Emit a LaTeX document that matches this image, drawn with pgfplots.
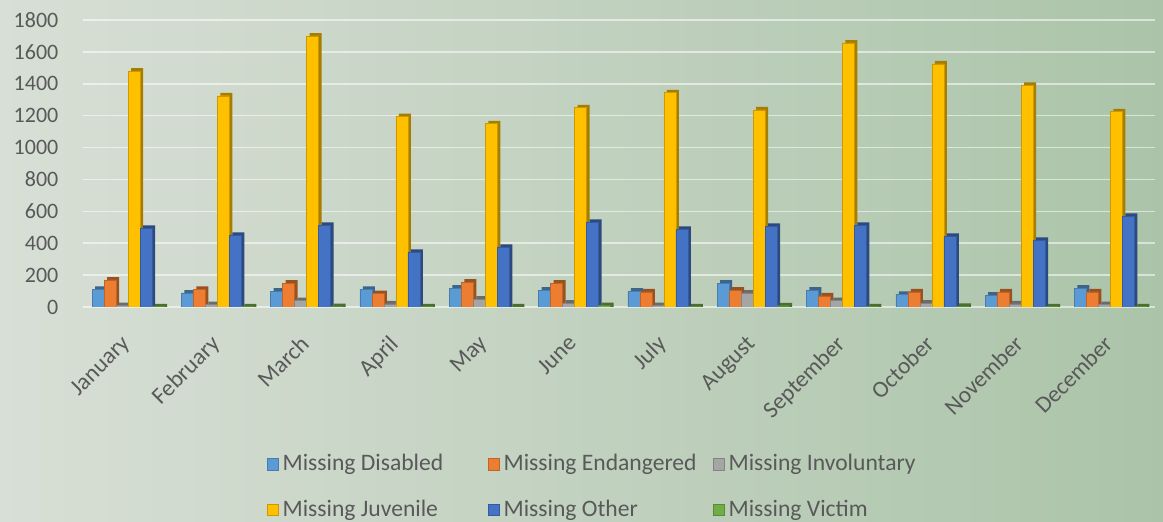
\documentclass[border=0pt]{standalone}
\usepackage{pgfplots}
\pgfplotsset{compat=1.18}
\usepackage{pgfplotstable}
\usepackage{fontspec}
\setmainfont{Carlito}
\definecolor{cDis}{HTML}{5B9BD5}
\definecolor{cEnd}{HTML}{ED7D31}
\definecolor{cInv}{HTML}{A5A5A5}
\definecolor{cJuv}{HTML}{FFC000}
\definecolor{cOth}{HTML}{4472C4}
\definecolor{cVic}{HTML}{70AD47}
\definecolor{txt}{HTML}{595959}
\definecolor{bgL}{HTML}{D8DFD6}
\definecolor{bgR}{HTML}{ABC4A9}
\pgfplotstableread{
x dis end inv juv oth vic
0 112 170 10 1480 494 2
1 88 112 15 1325 450 2
2 100 150 40 1700 512 3
3 112 85 20 1194 344 2
4 119 156 50 1150 375 1
5 106 150 25 1250 531 10
6 100 95 10 1344 487 2
7 150 106 88 1237 506 8
8 106 70 40 1656 512 2
9 80 95 25 1525 444 5
10 75 95 20 1390 419 2
11 119 95 15 1225 569 2
}\data
\pgfplotsset{
  back/.style={fill=#1!65!black, draw=none, forget plot},
  front/.style={fill=#1, draw=#1!80!black, line width=0.2pt},
}
\begin{document}
\begin{tikzpicture}
\useasboundingbox (0,0) rectangle (581.5pt,261pt);
\shade[left color=bgL, right color=bgR] (0,0) rectangle (581.5pt,261pt);
\begin{axis}[
  at={(41.7pt,107.5pt)}, anchor=south west,
  scale only axis, width=535.8pt, height=143.5pt,
  ybar, bar width=6pt,
  xmin=-0.5, xmax=11.5, ymin=0, ymax=1800,
  ytick={0,200,...,1800},
  xtick=data,
  xticklabels={January,February,March,April,May,June,July,August,September,October,November,December},
  xticklabel style={rotate=45, anchor=north east, font=\fontsize{11.7}{13}\selectfont, text=txt, xshift=-8.8pt, yshift=-3.2pt},
  yticklabel style={font=\fontsize{11}{12}\selectfont, text=txt, xshift=-9pt},
  /pgf/number format/assume math mode=true,
  /pgf/number format/1000 sep={},
  axis line style={draw=none},
  major tick length=0pt,
  ymajorgrids, grid style={white, opacity=0.55, line width=0.8pt},
  legend style={at={(axis description cs:0.165,-0.485)}, anchor=north west, draw=none, fill=none,
    legend columns=3, font=\fontsize{11.8}{13.5}\selectfont, text=txt,
    /tikz/every even column/.append style={column sep=0pt},
    row sep=9pt},
  legend cell align=left,
  legend image code/.code={\fill[#1] (-2pt,-2.9pt) rectangle (3.8pt,2.9pt);},
]
\addplot[back=cDis, bar shift=-13.5pt] table[x=x,y expr=\thisrow{dis}+18]{\data};
\addplot[front=cDis, bar shift=-15pt] table[x=x,y=dis]{\data};
\addplot[back=cEnd, bar shift=-7.5pt] table[x=x,y expr=\thisrow{end}+18]{\data};
\addplot[front=cEnd, bar shift=-9pt] table[x=x,y=end]{\data};
\addplot[back=cInv, bar shift=-1.5pt] table[x=x,y expr=\thisrow{inv}+18]{\data};
\addplot[front=cInv, bar shift=-3pt] table[x=x,y=inv]{\data};
\addplot[back=cJuv, bar shift=4.5pt] table[x=x,y expr=\thisrow{juv}+18]{\data};
\addplot[front=cJuv, bar shift=3pt] table[x=x,y=juv]{\data};
\addplot[back=cOth, bar shift=10.5pt] table[x=x,y expr=\thisrow{oth}+18]{\data};
\addplot[front=cOth, bar shift=9pt] table[x=x,y=oth]{\data};
\addplot[back=cVic, bar shift=16.5pt] table[x=x,y expr=\thisrow{vic}+18]{\data};
\addplot[front=cVic, bar shift=15pt] table[x=x,y=vic]{\data};
\legend{\makebox[100.5pt][l]{Missing Disabled},\makebox[102.5pt][l]{Missing Endangered},Missing Involuntary,Missing Juvenile,Missing Other,Missing Victim}
\end{axis}
\end{tikzpicture}
\end{document}
